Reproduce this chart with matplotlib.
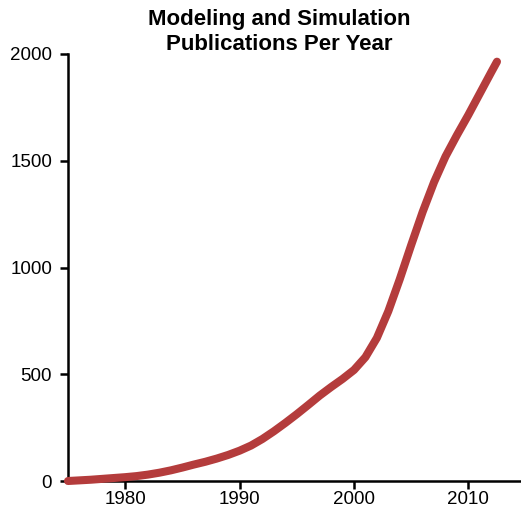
import matplotlib
matplotlib.use('Agg')
import matplotlib.pyplot as plt

# publications per year
years = [1975, 1976, 1977, 1978, 1979, 1980, 1981, 1982, 1983, 1984,
         1985, 1986, 1987, 1988, 1989, 1990, 1991, 1992, 1993, 1994,
         1995, 1996, 1997, 1998, 1999, 2000, 2001, 2002, 2003, 2004,
         2005, 2006, 2007, 2008, 2009, 2010, 2011, 2012, 2012.5]
pubs = [0, 3, 6, 10, 14, 18, 23, 30, 39, 50,
        63, 77, 90, 105, 122, 142, 166, 197, 233, 272,
        313, 356, 400, 440, 478, 520, 580, 670, 795, 945,
        1105, 1260, 1400, 1520, 1620, 1715, 1815, 1915, 1964]

xticks = [1980, 1990, 2000, 2010]
yticks = [0, 500, 1000, 1500, 2000]

plt.rcParams['font.family'] = ['Liberation Sans', 'DejaVu Sans']

fig = plt.figure(figsize=(5.21, 5.15), dpi=100)
ax = fig.add_axes([68/521, 34/515, 1 - 68/521, 427/515])

ax.plot(years, pubs, color='#b43c3c', lw=5.8, solid_capstyle='round',
        solid_joinstyle='round', clip_on=False, zorder=3)

ax.set_xlim(1975, 2014.6)
ax.set_ylim(0, 2000)
ax.set_xticks(xticks)
ax.set_yticks(yticks)
for s in ['top', 'right']:
    ax.spines[s].set_visible(False)
for s in ['left', 'bottom']:
    ax.spines[s].set_linewidth(1.8)
ax.tick_params(axis='both', direction='out', length=5.5, width=1.8,
               labelsize=13.5)
ax.tick_params(axis='x', pad=2)
ax.tick_params(axis='y', pad=6)

fig.text(279/521, 1 - 20/515, 'Modeling and Simulation', ha='center', va='center',
         fontsize=16, fontweight='bold')
fig.text(279/521, 1 - 44/515, 'Publications Per Year', ha='center', va='center',
         fontsize=16, fontweight='bold')

fig.savefig('out.png', dpi=100)
